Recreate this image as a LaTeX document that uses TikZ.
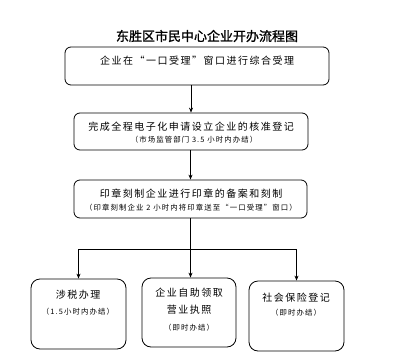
\documentclass[tikz,border=0pt]{standalone}
\usepackage{fontspec}
\setmainfont{Noto Sans CJK SC}
\newfontfamily\cjk[LetterSpace=15]{Noto Sans CJK SC}
\newfontfamily\cjktitle[FakeBold=1.2]{Noto Sans CJK SC}
\usetikzlibrary{arrows.meta}
\begin{document}
\begin{tikzpicture}[x=1pt,y=-1pt,
  box/.style={draw, rounded corners=6pt, line width=0.8pt, inner sep=0pt},
  lowbox/.style={box, rounded corners=9pt, minimum width=95pt, minimum height=70pt},
  big/.style={font=\cjk\fontsize{10}{12}\selectfont, inner sep=0pt},
  small/.style={font=\cjk\fontsize{7.4}{9}\selectfont, inner sep=0pt},
  line/.style={line width=0.7pt},
  arr/.style={line, -{Stealth[length=5pt,width=4pt]}}]
\useasboundingbox (0,0) rectangle (393,359);
% title
\node[font=\cjktitle\fontsize{13}{15}\selectfont, inner sep=0pt] (title) at (207,36) {东胜区市民中心企业开办流程图};
% boxes
\node[box, minimum width=264pt, minimum height=38pt] (b1) at (197,66) {};
\node[box, minimum width=234pt, minimum height=37pt] (b2) at (191,131.5) {};
\node[box, minimum width=233pt, minimum height=38pt] (b3) at (190.5,199) {};
\node[lowbox] (l) at (78.5,314) {};
\node[lowbox, minimum width=94pt, minimum height=69pt] (m) at (189,312.5) {};
\node[lowbox] (r) at (296.5,316) {};
% texts
\node[big] (t1) at (197,61) {企业在“一口受理”窗口进行综合受理};
\node[big] (t2a) at (191,127) {完成全程电子化申请设立企业的核准登记};
\node[small] (t2b) at (194,140) {（市场监管部门 3.5 小时内办结）};
\node[big] (t3a) at (191,194) {印章刻制企业进行印章的备案和刻制};
\node[small] (t3b) at (191,208) {（印章刻制企业 2 小时内将印章送至“一口受理”窗口）};
\node[big] (la) at (78,295) {涉税办理};
\node[small] (lb) at (78,312) {（1.5小时内办结）};
\node[big] (ma) at (189,293) {企业自助领取};
\node[big] (mb) at (189,310) {营业执照};
\node[small] (mc) at (189,328) {（即时办结）};
\node[big] (ra) at (296,298) {社会保险登记};
\node[small] (rb) at (296,313) {（即时办结）};
% connectors
\draw[arr] (b1.south -| b2.north) -- (b2.north);
\draw[arr] (b2.south -| b3.north) -- (b3.north);
\coordinate (j) at (190.5,249);
\coordinate (jl) at (l.north |- j);
\coordinate (jr) at (r.north |- j);
\draw[line] (b3.south) -- (j);
\draw[line] (jl) -- (jr);
\draw[arr] (jl) -- (l.north);
\draw[arr] (j) -- (j |- m.north);
\draw[arr] (jr) -- (r.north);
\end{tikzpicture}
\end{document}
